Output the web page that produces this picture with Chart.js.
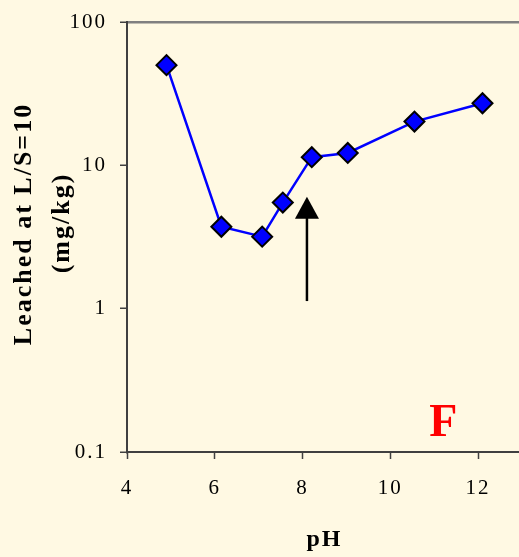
<!DOCTYPE html>
<html>
<head>
<meta charset="utf-8">
<script src="https://cdn.jsdelivr.net/npm/chart.js@4.4.1/dist/chart.umd.min.js"></script>
<style>
  html, body { margin: 0; padding: 0; overflow: hidden; background: #FFF9E3; }
  canvas { display: block; }
</style>
</head>
<body>
<canvas id="c" width="534" height="557"></canvas>
<script>
// Leaching test results versus pH
const phValues = [4.9, 6.15, 7.08, 7.55, 8.21, 9.03, 10.55, 12.1];
const leached  = [50, 3.73, 3.18, 5.5, 11.4, 12.2, 20.2, 27.1];

const xTicks = [4, 6, 8, 10, 12];
const yTicks = [0.1, 1, 10, 100];
const yTickLabels = ['0.1', '1', '10', '100'];

const xTitle = 'pH';
const yTitleLines = ['Leached at L/S=10', '(mg/kg)'];
const panelLabel = 'F';

// arrow marking the natural pH (x, from y, to y)
const arrowX = 8.1;
const arrowFrom = 1.13;
const arrowTo = 6.04;

const serif = '"Liberation Serif", "Times New Roman", serif';

const decor = {
  id: 'decor',
  beforeDraw(chart) {
    chart.ctx.letterSpacing = '2px';
  },
  afterDatasetsDraw(chart) {
    const { ctx, scales: { x, y } } = chart;
    ctx.save();
    // arrow
    const px = x.getPixelForValue(arrowX);
    const yBase = y.getPixelForValue(arrowFrom);
    const yTip = y.getPixelForValue(arrowTo);
    ctx.strokeStyle = '#000';
    ctx.fillStyle = '#000';
    ctx.lineWidth = 2.5;
    ctx.beginPath();
    ctx.moveTo(px, yBase);
    ctx.lineTo(px, yTip + 20);
    ctx.stroke();
    ctx.beginPath();
    ctx.moveTo(px, yTip);
    ctx.lineTo(px - 12, yTip + 22);
    ctx.lineTo(px + 12, yTip + 22);
    ctx.closePath();
    ctx.fill();

    // panel letter
    ctx.font = 'bold 46px ' + serif;
    ctx.fillStyle = '#FF0000';
    ctx.textAlign = 'center';
    ctx.textBaseline = 'alphabetic';
    ctx.fillText(panelLabel, x.getPixelForValue(11.23), y.getPixelForValue(0.129));

    // vertical axis title, two lines
    ctx.font = 'bold 26px ' + serif;
    ctx.fillStyle = '#000';
    ctx.textBaseline = 'middle';
    ctx.translate(24.2, 224);
    ctx.rotate(-Math.PI / 2);
    ctx.fillText(yTitleLines[0], 0, 0);
    ctx.fillText(yTitleLines[1], 1, 38.5);
    ctx.restore();
  }
};

new Chart(document.getElementById('c'), {
  type: 'scatter',
  data: {
    datasets: [{
      data: phValues.map((v, i) => ({ x: v, y: leached[i] })),
      showLine: true,
      borderColor: '#0000FF',
      borderWidth: 2.5,
      pointStyle: 'rectRot',
      pointRadius: 10,
      pointHoverRadius: 10,
      pointBackgroundColor: '#0000FF',
      pointBorderColor: '#000000',
      pointBorderWidth: 2
    }]
  },
  options: {
    responsive: false,
    animation: false,
    events: [],
    layout: { padding: { top: 22, right: 5, bottom: 0, left: 0 } },
    plugins: { legend: { display: false }, tooltip: { enabled: false } },
    scales: {
      x: {
        type: 'linear',
        min: 4,
        max: 13,
        afterBuildTicks: s => { s.ticks = xTicks.map(v => ({ value: v })); },
        afterFit: s => { s.height = 105; s.paddingLeft = 0; s.paddingRight = 0; },
        border: { color: '#404040', width: 2 },
        grid: { drawOnChartArea: false, tickLength: 7, tickColor: '#404040', tickWidth: 1.5 },
        ticks: { padding: 17, color: '#000', maxRotation: 0, font: { family: serif, size: 21 } },
        title: {
          display: true, text: xTitle, color: '#000',
          font: { family: serif, size: 24, weight: 'bold', lineHeight: 1.2 },
          padding: { top: 0, bottom: 3 }
        }
      },
      y: {
        type: 'logarithmic',
        min: 0.1,
        max: 100,
        afterBuildTicks: s => { s.ticks = yTicks.map(v => ({ value: v })); },
        afterFit: s => { s.width = 127; s.paddingTop = 0; s.paddingBottom = 0; },
        border: { color: '#404040', width: 2 },
        grid: {
          color: c => (c.tick && c.tick.value === 100 ? '#808080' : 'transparent'),
          lineWidth: 2.5,
          tickLength: 7,
          tickColor: '#404040',
          tickWidth: 1.5
        },
        ticks: {
          padding: 13, color: '#000', font: { family: serif, size: 21 },
          callback: v => { const i = yTicks.indexOf(v); return i >= 0 ? yTickLabels[i] : ''; }
        }
      }
    }
  },
  plugins: [decor]
});
</script>
</body>
</html>
